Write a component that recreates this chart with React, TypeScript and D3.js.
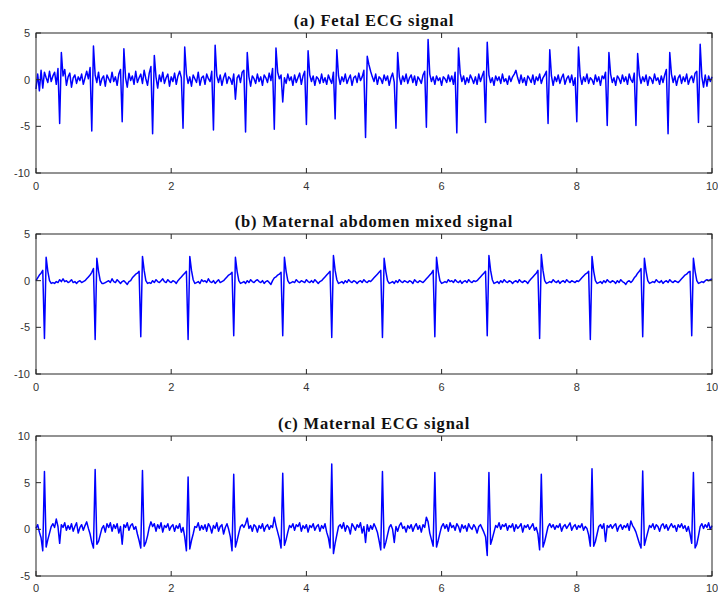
import React from 'react';
import * as d3 from 'd3';

// sample spacing of every series, seconds
const DT = 0.025;

const X_TICKS = [0, 2, 4, 6, 8, 10];
const Y_TICKS_AB = [-10, -5, 0, 5];
const Y_TICKS_C = [-5, 0, 5, 10];

const TITLES = [
  '(a) Fetal ECG signal',
  '(b) Maternal abdomen mixed signal',
  '(c) Maternal ECG signal',
];

// (a) fetal ECG, one row = 0.5 s
const fetal = [
  -1.0, 0.6, -1.2, 1.0, -0.9, 0.8, 0.2, -0.3, 0.9, -0.2, 0.4, 0.8, -0.5, 1.2, -4.7, 2.9, 0.4, 1.1, -0.6, 0.3,
  0.7, -0.8, 0.2, 0.5, -0.4, 0.3, -0.1, 0.6, -0.5, 0.2, 0.9, 0.1, 1.3, -5.5, 3.6, 0.5, -0.3, 0.8, -0.6, 0.1,
  0.4, -0.7, 0.5, 0.1, -0.3, 0.8, -0.2, 0.3, -0.6, 0.6, 1.1, -4.5, 3.3, 0.2, -0.8, 0.7, -0.1, 0.4, -0.5, 0.9,
  -0.3, 0.2, 0.6, -0.4, 1.0, 0.1, -0.6, 0.7, 1.4, -5.8, 2.6, 0.3, -0.9, 0.5, -0.2, 0.8, -0.4, 0.2, 0.6, -0.7,
  0.3, -0.2, 0.7, -0.5, 0.4, 0.9, 0.2, -5.2, 3.5, 0.6, -0.4, 0.3, -0.7, 0.5, 0.1, -0.3, 0.8, -0.6, 0.2, 0.4,
  -0.5, 0.6, 0.1, -0.2, 0.9, -5.4, 3.7, 0.4, -0.3, 0.5, -0.6, 0.2, 0.7, -0.4, 0.3, 0.1, -0.5, 0.6, -2.1, 0.2,
  0.5, -0.3, 0.8, 1.0, -5.6, 2.9, 0.3, -0.7, 0.4, 0.1, -0.4, 0.6, -0.2, 0.3, -0.6, 0.5, 0.2, -0.3, 0.7, -0.1,
  1.2, -5.3, 3.4, 0.8, 0.1, 0.5, -2.4, 0.2, -0.4, 0.6, -0.1, 0.3, -0.6, 0.5, -0.3, 0.2, 0.7, -0.5, 0.4, 0.9,
  -4.8, 3.1, 0.5, -0.2, 0.4, -0.6, 0.3, 0.1, -0.4, 0.6, -0.3, 0.2, -0.5, 0.5, 0.0, -0.4, 0.8, -4.2, 3.2, 0.4,
  -0.5, 0.3, -0.2, 0.6, -0.4, 0.1, 0.5, -0.6, 0.2, 0.4, -0.3, 0.7, -0.1, 0.3, 1.0, -6.2, 2.5, 1.6, 0.9, 0.3,
  -0.2, 0.6, -0.5, 0.3, 0.1, -0.4, 0.5, -0.1, 0.4, -0.6, 0.2, 0.7, -0.3, -5.2, 2.9, 0.3, -0.5, 0.4, -0.2, 0.6,
  -0.4, 0.2, 0.5, -0.3, 0.4, -0.6, 0.3, 0.0, -0.4, 0.5, 0.9, -5.1, 4.3, 0.6, -0.2, 0.3, -0.5, 0.4, -0.1, 0.2,
  -0.6, 0.3, 0.1, -0.3, 0.5, -0.2, 0.4, -0.5, 0.8, -5.7, 3.4, 0.7, -0.2, 0.4, -0.5, 0.2, -0.3, 0.5, 0.1, -0.4,
  0.3, -0.5, 0.6, -0.2, 0.4, 0.9, -4.6, 4.0, 0.5, -0.3, 0.2, -0.6, 0.4, -0.1, 0.3, -0.4, 0.6, -0.2, 0.1, -0.5,
  0.4, -0.2, 0.3, 0.6, 1.0, 0.2, -0.4, 0.5, -0.3, 0.2, -0.6, 0.4, 0.1, -0.3, 0.5, -0.5, 0.3, -0.1, 0.6, -0.4,
  0.2, 0.5, 0.9, -4.7, 3.2, 0.4, -0.6, 0.3, -0.2, 0.5, -0.4, 0.2, 0.6, -0.5, 0.1, 0.4, -0.3, 0.5, -0.6, 0.2,
  -4.5, 3.5, 0.4, -0.5, 0.3, -0.2, 0.6, -0.4, 0.2, 0.0, -0.5, 0.5, -0.2, 0.3, -0.6, 0.4, 0.1, 0.8, -4.9, 2.9,
  0.6, -0.3, 0.2, -0.6, 0.4, 0.1, -0.4, 0.5, -0.2, 0.3, -0.5, 0.6, 0.0, -0.3, 0.7, -4.9, 2.8, 0.5, -0.4, 0.3,
  -0.2, 0.5, -0.6, 0.3, 0.1, -0.4, 0.6, -0.1, 0.2, -0.5, 0.4, -0.3, 0.5, 1.1, -5.8, 2.9, 0.6, -0.3, 0.4, -0.6,
  0.2, 0.5, -0.4, 0.3, -0.2, 0.6, -0.5, 0.1, 0.4, -0.3, 0.7, 0.9, -4.6, 3.8, 0.3, -0.8, 0.5, -0.7, 0.4, -0.2,
  0.3,
];

// (b) maternal abdomen mixed signal
const mixed = [
  0.0, 0.3, 0.6, 0.8, 1.1, -6.2, 2.5, 1.0, 0.0, -0.3, -0.2, -0.3, -0.1, -0.2, 0.1, -0.1, 0.2, -0.1, 0.0, -0.2,
  -0.1, 0.1, -0.2, -0.1, -0.3, -0.1, 0.0, -0.2, -0.1, 0.0, 0.2, 0.4, 0.6, 0.9, 1.3, -6.3, 2.4, 1.0, 0.0, -0.3,
  -0.3, -0.2, -0.1, 0.0, -0.2, 0.2, -0.1, -0.2, 0.1, -0.1, -0.3, -0.1, 0.0, -0.2, -0.4, -0.1, 0.0, 0.3, 0.5, 0.7,
  0.8, 1.0, -6.0, 2.6, 1.1, 0.0, -0.3, -0.2, -0.3, 0.0, -0.2, 0.1, -0.1, -0.2, 0.0, 0.2, -0.1, -0.2, 0.1, -0.1,
  -0.2, 0.0, -0.1, -0.3, 0.0, 0.2, 0.4, 0.6, 0.8, 1.0, -6.3, 2.6, 1.1, 0.1, -0.3, -0.2, -0.1, -0.3, 0.1, -0.1,
  0.0, -0.2, 0.2, -0.1, -0.2, 0.0, -0.3, -0.1, 0.1, -0.2, -0.1, 0.0, 0.2, 0.4, 0.6, 0.7, 0.9, -5.9, 2.5, 1.0,
  0.0, -0.3, -0.2, -0.1, -0.3, 0.0, -0.2, 0.1, -0.1, -0.2, 0.0, 0.1, -0.1, -0.2, 0.0, -0.3, -0.1, 0.0, -0.2, -0.4,
  0.0, 0.3, 0.4, 0.6, 0.7, 0.9, -5.9, 2.5, 1.0, 0.0, -0.3, -0.2, -0.1, -0.2, 0.1, -0.1, -0.2, 0.0, -0.1, -0.2,
  0.1, -0.1, -0.2, 0.0, -0.2, 0.1, -0.1, -0.3, -0.1, 0.0, 0.2, 0.4, 0.6, 0.8, 1.0, -6.1, 2.7, 1.1, 0.1, -0.3,
  -0.2, -0.1, -0.3, 0.0, -0.2, 0.1, -0.1, -0.2, 0.0, -0.1, -0.3, -0.1, 0.0, -0.2, 0.1, -0.1, -0.2, 0.0, -0.1, 0.1,
  0.3, 0.5, 0.7, 0.9, 1.1, -6.1, 2.4, 1.0, 0.0, -0.3, -0.2, -0.1, -0.3, 0.0, -0.2, 0.1, -0.1, -0.2, 0.0, -0.1,
  -0.2, 0.0, -0.1, -0.3, 0.1, -0.1, -0.2, 0.0, -0.1, -0.2, 0.0, 0.2, 0.4, 0.6, 0.8, 1.1, -6.0, 2.5, 1.0, 0.0,
  -0.3, -0.2, -0.1, -0.2, 0.1, -0.1, 0.0, -0.2, 0.1, -0.1, -0.2, 0.0, -0.3, -0.1, 0.0, -0.2, 0.1, -0.1, -0.2, 0.0,
  -0.1, 0.0, 0.2, 0.4, 0.6, 0.8, 1.0, -5.9, 2.7, 1.1, 0.1, -0.3, -0.2, -0.1, -0.3, 0.0, -0.2, 0.1, -0.1, -0.2,
  0.0, -0.1, -0.3, -0.1, 0.0, -0.2, 0.1, -0.1, -0.2, 0.0, -0.1, -0.3, 0.0, 0.2, 0.4, 0.6, 0.8, 1.1, -6.2, 2.8,
  1.1, 0.0, -0.3, -0.2, -0.1, -0.2, 0.1, -0.1, -0.2, 0.0, -0.3, -0.1, 0.0, -0.2, 0.1, -0.1, -0.2, 0.0, -0.1, -0.2,
  0.0, -0.1, 0.1, 0.3, 0.5, 0.7, 0.8, 1.0, -6.3, 2.6, 1.0, 0.0, -0.3, -0.2, -0.1, -0.3, 0.0, -0.2, 0.1, -0.1,
  -0.2, 0.0, -0.1, -0.3, 0.0, -0.2, 0.1, -0.1, -0.2, -0.4, -0.1, 0.0, -0.2, 0.0, 0.3, 0.5, 0.8, 1.0, 1.3, -6.0,
  2.4, 1.0, 0.0, -0.3, -0.2, -0.1, -0.2, 0.1, -0.1, -0.2, 0.0, -0.3, -0.1, 0.0, -0.2, 0.1, -0.1, -0.2, 0.0, -0.1,
  -0.2, 0.0, 0.2, 0.4, 0.6, 0.7, 0.9, 1.0, -5.9, 2.4, 1.0, 0.0, -0.3, -0.2, -0.1, -0.2, 0.0, 0.1, 0.0, 0.1,
  0.2,
];

// (c) maternal ECG
const maternal = [
  0.1, 0.5, -0.3, -0.9, -2.3, 6.2, -1.9, -1.1, -0.4, 0.3, 0.6, 0.2, 1.1, 0.3, -1.5, 0.5, 0.2, 0.7, -0.1, 0.4,
  0.0, 0.6, -0.2, 0.3, 0.7, -0.4, 0.2, 0.5, -0.1, 0.4, 0.8, 0.1, -0.5, -1.4, -2.0, 6.4, -1.6, -1.3, -0.6, 0.1,
  0.4, -0.3, 0.6, 0.2, 0.7, -0.2, 0.5, 0.1, 0.6, -0.4, 0.3, -1.6, 0.5, 0.2, 0.7, -0.1, 0.4, 0.6, 0.0, 0.3,
  -0.5, -1.2, -2.0, 6.3, -1.8, -1.4, -0.7, 0.2, 0.8, 0.3, 0.6, -0.2, 0.5, 0.1, 0.7, -0.3, 0.4, 0.2, 0.6, -0.1,
  0.3, 0.5, -0.2, 0.4, 0.1, 0.6, -0.3, 0.2, -0.8, -2.3, 5.6, -2.1, -1.2, -0.5, 0.3, 0.2, 0.7, -0.1, 0.4, 0.0,
  0.5, -0.2, 0.6, 0.3, -0.4, 0.4, 0.1, 0.7, -0.2, 0.3, 0.5, -0.5, 0.2, 0.6, 0.0, -0.8, -2.3, 5.9, -1.9, -1.2,
  -0.4, 0.3, 0.5, 0.2, 0.6, 1.2, 0.1, 0.4, -0.2, 0.5, 0.3, -0.3, 0.4, 0.1, 0.6, -0.2, 0.3, 0.5, 0.0, 0.4,
  0.2, 1.3, 0.4, -0.3, -1.0, -2.0, 6.0, -1.7, -1.1, -0.3, 0.4, 0.2, 0.6, -0.1, 0.5, 0.3, 0.7, -0.2, 0.4, 0.1,
  0.5, -0.3, 0.4, 0.2, 0.6, -0.1, 0.3, 0.5, -0.2, 0.4, 0.1, 0.6, -0.3, -0.9, -2.0, 7.0, -2.6, -1.5, -0.6, 0.3,
  0.5, 0.1, 0.7, -0.2, 0.4, 0.2, -0.5, 0.6, 0.3, -0.1, 0.5, 0.2, 0.7, -0.4, 0.3, -1.4, 0.5, -0.2, 0.4, 0.0,
  0.6, 0.2, -0.3, -1.2, -2.2, 6.2, -2.0, -1.4, -0.6, 0.2, 0.5, 0.0, -1.4, 0.3, -0.2, 0.4, 0.7, 0.1, 0.3, -0.3,
  0.4, 0.1, 0.5, -0.2, 0.3, 0.6, 0.0, 0.4, -0.3, 0.5, 0.2, 1.3, 0.8, -0.4, -1.1, -1.8, 6.1, -1.9, -1.2, -0.4,
  0.3, 0.6, 0.1, 0.5, -0.2, 0.7, 0.2, 0.4, -0.1, 0.6, 0.3, -0.3, 0.5, 0.1, 0.4, -0.2, 0.6, 0.2, 0.0, 0.5,
  0.2, -0.4, 0.3, 0.5, 0.1, -0.3, -0.8, -2.8, 6.1, -1.6, -1.0, -0.3, 0.4, 0.2, 0.7, 0.0, 0.5, 0.3, 0.6, -0.1,
  0.4, 0.2, 0.6, -0.2, 0.5, 0.1, 0.3, 0.6, -0.3, 0.4, 0.2, 0.5, 0.0, 0.3, 0.6, -0.1, 0.2, -0.5, -2.2, 5.9,
  -1.9, -1.3, -0.5, 0.3, 0.6, 0.2, 0.5, 0.0, 0.4, 0.2, 0.6, -0.2, 0.3, 0.5, 0.1, 0.4, 0.7, -0.1, 0.3, 0.5,
  0.0, 0.4, 0.2, 0.6, -0.1, 0.3, 0.1, -0.6, -1.8, 6.5, -1.8, -1.3, -0.5, 0.3, 0.5, 0.1, 0.6, -1.3, 0.4, 0.2,
  0.5, 0.1, 0.4, 0.6, -0.2, 0.3, 0.5, 0.0, 0.4, 0.2, 0.6, -0.1, 0.9, 0.4, 0.1, -0.3, -0.9, -1.5, -2.0, 6.25,
  -1.7, -1.0, -0.3, 0.4, 0.2, 0.6, 0.0, 0.5, 0.3, -0.2, 0.4, 0.6, 0.1, 0.5, -0.1, 0.3, 0.6, 0.2, 0.4, -0.2,
  0.5, 0.2, 0.6, 0.1, 0.4, -0.2, 0.3, -0.5, -1.5, 6.1, -2.0, -1.6, -0.7, 0.3, 0.6, 0.1, 0.5, 0.2, 0.7, 0.0,
  0.4,
];

const W = 718;
const H = 593;
const LEFT = 36;
const RIGHT = 712;
const PANEL_H = 140;
const AXIS_COLOR = '#262626';
const TICK_LEN = 5;

const x = d3.scaleLinear().domain([0, 10]).range([LEFT, RIGHT]);

function Panel({ top, title, values, yTicks }: { top: number; title: string; values: number[]; yTicks: number[] }) {
  const bottom = top + PANEL_H;
  const y = d3.scaleLinear().domain(d3.extent(yTicks) as [number, number]).range([bottom, top]);
  const line = d3.line<number>()
    .x((_, i) => x(i * DT))
    .y(d => y(d));
  // last panel's tick labels sit right at the page edge
  const labelY = Math.min(bottom + 17, H - 1);

  return (
    <g>
      <text
        x={(LEFT + RIGHT) / 2}
        y={top - 7}
        textAnchor="middle"
        fontFamily="'Liberation Serif', serif"
        fontWeight="bold"
        fontSize={16.5}
        letterSpacing={0.8}
        fill="#111"
      >
        {title}
      </text>

      <path d={line(values) || ''} fill="none" stroke="#0000ff" strokeWidth={1.5} strokeLinejoin="round" />

      <rect x={LEFT} y={top} width={RIGHT - LEFT} height={PANEL_H} fill="none" stroke={AXIS_COLOR} strokeWidth={1} />

      {X_TICKS.map(t => (
        <g key={'x' + t}>
          <line x1={x(t)} x2={x(t)} y1={bottom} y2={bottom - TICK_LEN} stroke={AXIS_COLOR} />
          <line x1={x(t)} x2={x(t)} y1={top} y2={top + TICK_LEN} stroke={AXIS_COLOR} />
          <text
            x={x(t)}
            y={labelY}
            textAnchor="middle"
            fontFamily="'Liberation Sans', Arial, sans-serif"
            fontSize={11}
            fill="#333"
          >
            {t}
          </text>
        </g>
      ))}

      {yTicks.map(t => (
        <g key={'y' + t}>
          <line x1={LEFT} x2={LEFT + TICK_LEN} y1={y(t)} y2={y(t)} stroke={AXIS_COLOR} />
          <line x1={RIGHT} x2={RIGHT - TICK_LEN} y1={y(t)} y2={y(t)} stroke={AXIS_COLOR} />
          <text
            x={LEFT - 6}
            y={y(t) + 4}
            textAnchor="end"
            fontFamily="'Liberation Sans', Arial, sans-serif"
            fontSize={11}
            fill="#333"
          >
            {t}
          </text>
        </g>
      ))}
    </g>
  );
}

export default function App() {
  return (
    <svg
      width={W}
      height={H}
      style={{ position: 'absolute', left: 0, top: 0, background: '#fff' }}
    >
      <Panel top={33} title={TITLES[0]} values={fetal} yTicks={Y_TICKS_AB} />
      <Panel top={234} title={TITLES[1]} values={mixed} yTicks={Y_TICKS_AB} />
      <Panel top={436} title={TITLES[2]} values={maternal} yTicks={Y_TICKS_C} />
    </svg>
  );
}
